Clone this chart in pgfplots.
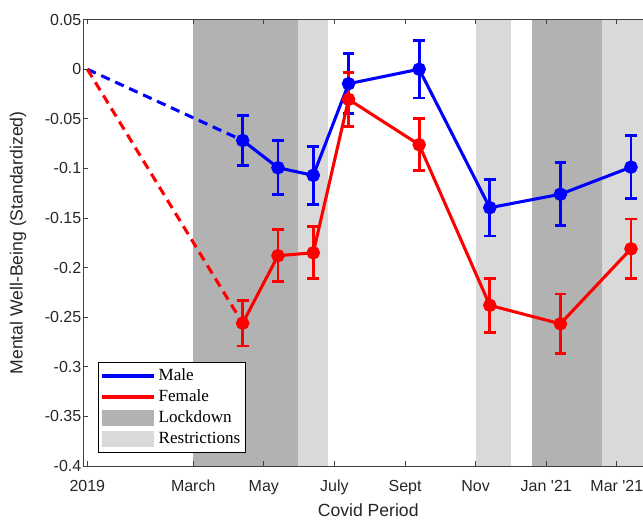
\documentclass[border=0pt]{standalone}
\usepackage{pgfplots}
\pgfplotsset{compat=1.18}
\usepackage{fontspec}
\setmainfont{Liberation Sans}
\newfontfamily\legendfont{Liberation Serif}
\definecolor{darkshade}{gray}{0.70}
\definecolor{lightshade}{gray}{0.85}
\definecolor{axgray}{gray}{0.25}
\pgfplotsset{
  linelegend/.style={legend image code/.code={\draw[##1, line width=2.4pt] (0pt,0pt) -- (39pt,0pt);}},
  patchlegend/.style={legend image code/.code={\path[##1, draw=none] (0pt,-6pt) rectangle (39pt,6pt);}},
}
\begin{document}
\begin{tikzpicture}
\begin{axis}[
  scale only axis,
  width=419.7pt, height=334.8pt,
  xmin=-0.113, xmax=15.74,
  ymin=-0.4, ymax=0.05,
  axis on top,
  axis x line*=box, axis y line*=left,
  axis line style={axgray, line width=0.6pt},
  tick style={axgray, line width=0.6pt},
  major tick length=3.5pt,
  tick align=inside,
  xtick={0,3,5,7,9,11,13,15},
  xticklabels={2019,March,May,July,Sept,Nov,Jan \textquotesingle 21,Mar \textquotesingle 21},
  ytick={-0.4,-0.35,-0.3,-0.25,-0.2,-0.15,-0.1,-0.05,0,0.05},
  yticklabels={-0.4,-0.35,-0.3,-0.25,-0.2,-0.15,-0.1,-0.05,0,0.05},
  ticklabel style={font=\fontsize{12}{14}\selectfont, text=black!85},
  xticklabel style={yshift=-7pt},
  yticklabel style={xshift=2pt},
  xlabel={Covid Period},
  ylabel={Mental Well-Being (Standardized)},
  every axis x label/.style={at={(axis description cs:0.509,-0.0986)}, anchor=center,
    font=\fontsize{13.2}{15}\selectfont, text=black!85},
  every axis y label/.style={at={(axis description cs:-0.1167,0.5)}, rotate=90, anchor=center,
    font=\fontsize{13.2}{15}\selectfont, text=black!85},
  legend style={at={(axis description cs:0.0257,0.0307)}, anchor=south west,
    draw=black, line width=0.6pt, fill=white,
    font=\fontsize{12.8}{14}\legendfont,
    inner xsep=2pt, inner ysep=2pt, row sep=0pt,
    nodes={inner ysep=2.1pt, inner xsep=2pt, text height=9pt, text depth=2.5pt}},
  legend cell align=left,
]
% shaded periods
\addplot[fill=darkshade, draw=none, forget plot] coordinates {(3,-0.4) (3,0.05) (5.97,0.05) (5.97,-0.4)} -- cycle;
\addplot[fill=lightshade, draw=none, forget plot] coordinates {(5.97,-0.4) (5.97,0.05) (6.81,0.05) (6.81,-0.4)} -- cycle;
\addplot[fill=lightshade, draw=none, forget plot] coordinates {(11.0,-0.4) (11.0,0.05) (12.0,0.05) (12.0,-0.4)} -- cycle;
\addplot[fill=darkshade, draw=none, forget plot] coordinates {(12.59,-0.4) (12.59,0.05) (14.57,0.05) (14.57,-0.4)} -- cycle;
\addplot[fill=lightshade, draw=none, forget plot] coordinates {(14.57,-0.4) (14.57,0.05) (15.74,0.05) (15.74,-0.4)} -- cycle;
% dashed pre-covid links
\addplot[blue, line width=2.3pt, dash pattern=on 7pt off 4.5pt, forget plot] coordinates {(0,0) (4.4,-0.0718)};
\addplot[red, line width=2.3pt, dash pattern=on 7pt off 4.5pt, forget plot] coordinates {(0,0) (4.4,-0.256)};
% Male
\addplot[blue, line width=2.3pt, mark=*, mark size=3.9pt, forget plot,
  error bars/.cd, y dir=both, y explicit,
  error bar style={line width=2.2pt},
  error mark options={rotate=90, mark size=4.4pt, line width=2.2pt}]
coordinates {
  (4.4,-0.0718) +- (0,0.025)
  (5.4,-0.0993) +- (0,0.027)
  (6.4,-0.107) +- (0,0.029)
  (7.4,-0.0146) +- (0,0.030)
  (9.4,0.0) +- (0,0.029)
  (11.4,-0.1396) +- (0,0.0285)
  (13.4,-0.126) +- (0,0.032)
  (15.4,-0.0987) +- (0,0.032)
};
% Female
\addplot[red, line width=2.3pt, mark=*, mark size=3.9pt, forget plot,
  error bars/.cd, y dir=both, y explicit,
  error bar style={line width=2.2pt},
  error mark options={rotate=90, mark size=4.4pt, line width=2.2pt}]
coordinates {
  (4.4,-0.256) +- (0,0.023)
  (5.4,-0.188) +- (0,0.026)
  (6.4,-0.185) +- (0,0.026)
  (7.4,-0.0304) +- (0,0.027)
  (9.4,-0.0761) +- (0,0.026)
  (11.4,-0.238) +- (0,0.027)
  (13.4,-0.2566) +- (0,0.030)
  (15.4,-0.181) +- (0,0.030)
};
\addlegendimage{linelegend, blue}
\addlegendentry{Male}
\addlegendimage{linelegend, red}
\addlegendentry{Female}
\addlegendimage{patchlegend, fill=darkshade}
\addlegendentry{Lockdown}
\addlegendimage{patchlegend, fill=lightshade}
\addlegendentry{Restrictions}
\end{axis}
\pgfresetboundingbox
\path[use as bounding box] (-62.5pt,-39.75pt) rectangle (419.7pt,349.5pt);
\end{tikzpicture}
\end{document}
